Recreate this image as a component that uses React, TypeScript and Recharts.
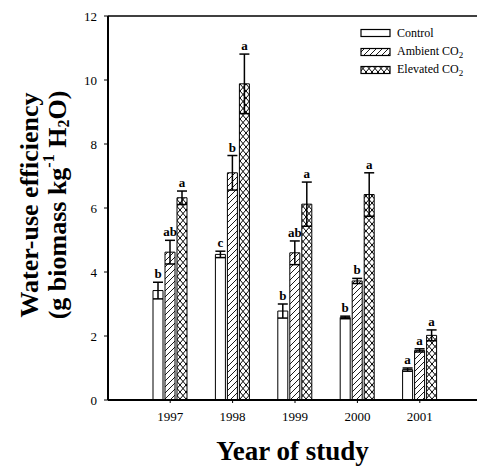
import { BarChart, Bar, XAxis, YAxis, ErrorBar, LabelList, ReferenceLine } from 'recharts'

const years = ['1997', '1998', '1999', '2000', '2001']
const control = [3.42, 4.55, 2.78, 2.58, 0.95]
const controlErr = [0.26, 0.1, 0.22, 0.04, 0.05]
const ambient = [4.62, 7.1, 4.6, 3.72, 1.55]
const ambientErr = [0.37, 0.54, 0.37, 0.08, 0.05]
const elevated = [6.32, 9.88, 6.12, 6.42, 2.02]
const elevatedErr = [0.21, 0.93, 0.69, 0.68, 0.17]
const controlLetters = ['b', 'c', 'b', 'b', 'a']
const ambientLetters = ['ab', 'b', 'ab', 'b', 'a']
const elevatedLetters = ['a', 'a', 'a', 'a', 'a']
const yTicks = [0, 2, 4, 6, 8, 10, 12]

const data = years.map((year, i) => ({
    year,
    control: control[i],
    controlErr: controlErr[i],
    ambient: ambient[i],
    ambientErr: ambientErr[i],
    elevated: elevated[i],
    elevatedErr: elevatedErr[i],
}))

const serif = '"Liberation Serif", "DejaVu Serif", serif'

// letter above the error bar cap
const letterLabel = (letters: string[], errs: number[]) => (props: any) => {
    const { x, y, width, height, value, index } = props
    if (value == null) return null
    const perUnit = height / value
    const top = y - errs[index] * perUnit
    return (
        <text
            x={x + width / 2}
            y={top - 4}
            textAnchor="middle"
            fontFamily={serif}
            fontWeight="bold"
            fontSize={13}
            fill="#000"
        >
            {letters[index]}
        </text>
    )
}

const legendItems = [
    { label: 'Control', fill: '#fff' },
    { label: 'Ambient CO', fill: 'url(#hatch)' },
    { label: 'Elevated CO', fill: 'url(#cross)' },
]

const CustomLegend = () => (
    <div style={{ position: 'absolute', left: 360, top: 24, fontFamily: serif, fontSize: 12, color: '#000' }}>
        {legendItems.map((item, i) => (
            <div key={i} style={{ display: 'flex', alignItems: 'center', height: 18.5 }}>
                <svg width={32} height={10} style={{ marginRight: 5 }}>
                    <rect x={1} y={1.5} width={29} height={7} fill={item.fill} stroke="#000" strokeWidth={1.2} />
                </svg>
                <span>
                    {item.label}
                    {i > 0 && <sub style={{ fontSize: 9 }}>2</sub>}
                </span>
            </div>
        ))}
    </div>
)

const YTitle = (props: any) => {
    const { viewBox } = props
    const cy = viewBox.y + viewBox.height / 2 - 3
    return (
        <g fontFamily={serif} fontWeight="bold" fontSize={26} fill="#000">
            <text x={29} y={cy} textAnchor="middle" dominantBaseline="central" transform={`rotate(-90 29 ${cy})`}>
                Water-use efficiency
            </text>
            <text x={57} y={cy} textAnchor="middle" dominantBaseline="central" transform={`rotate(-90 57 ${cy})`}>
                (g biomass kg
                <tspan fontSize={16} dy={-9}>-1</tspan>
                <tspan dy={9}> H</tspan>
                <tspan fontSize={16} dy={6}>2</tspan>
                <tspan dy={-6}>O)</tspan>
            </text>
        </g>
    )
}

export default function App() {
    return (
        <div style={{ position: 'absolute', left: 0, top: 0, width: 477, height: 466, background: '#fff' }}>
            <BarChart
                width={477}
                height={466}
                data={data}
                margin={{ top: 16, right: 0, left: 0, bottom: 36 }}
                barSize={10}
                barGap={2}
            >
                <defs>
                    <pattern id="hatch" patternUnits="userSpaceOnUse" width={6} height={6}>
                        <rect width={6} height={6} fill="#fff" />
                        <path d="M-1,1 L1,-1 M0,6 L6,0 M5,7 L7,5" stroke="#000" strokeWidth={0.9} />
                    </pattern>
                    <pattern id="cross" patternUnits="userSpaceOnUse" width={6} height={7}>
                        <rect width={6} height={7} fill="#fff" />
                        <path d="M0,0 L6,7 M6,0 L0,7" stroke="#000" strokeWidth={1} />
                    </pattern>
                </defs>
                <ReferenceLine y={12} stroke="#000" strokeWidth={1.5} />
                <XAxis
                    dataKey="year"
                    padding={{ left: 31, right: 26 }}
                    height={30}
                    tickSize={3}
                    tickMargin={9}
                    axisLine={{ stroke: '#000', strokeWidth: 2 }}
                    tickLine={{ stroke: '#000' }}
                    tick={{ fontFamily: serif, fontSize: 13, fill: '#000' }}
                    label={{
                        value: 'Year of study',
                        position: 'insideBottom',
                        offset: -30,
                        style: { fontFamily: serif, fontWeight: 'bold', fontSize: 27, fill: '#000' },
                    }}
                />
                <YAxis
                    domain={[0, 12]}
                    ticks={yTicks}
                    width={108}
                    tickSize={4}
                    tickMargin={7}
                    axisLine={{ stroke: '#000', strokeWidth: 2 }}
                    tickLine={{ stroke: '#000' }}
                    tick={{ fontFamily: serif, fontSize: 13, fill: '#000' }}
                    label={{ content: YTitle }}
                />
                <Bar dataKey="control" fill="#fff" stroke="#000" strokeWidth={1} isAnimationActive={false}>
                    <ErrorBar dataKey="controlErr" width={5} stroke="#000" strokeWidth={1.5} />
                    <LabelList dataKey="control" content={letterLabel(controlLetters, controlErr)} />
                </Bar>
                <Bar dataKey="ambient" fill="url(#hatch)" stroke="#000" strokeWidth={1} isAnimationActive={false}>
                    <ErrorBar dataKey="ambientErr" width={5} stroke="#000" strokeWidth={1.5} />
                    <LabelList dataKey="ambient" content={letterLabel(ambientLetters, ambientErr)} />
                </Bar>
                <Bar dataKey="elevated" fill="url(#cross)" stroke="#000" strokeWidth={1} isAnimationActive={false}>
                    <ErrorBar dataKey="elevatedErr" width={5} stroke="#000" strokeWidth={1.5} />
                    <LabelList dataKey="elevated" content={letterLabel(elevatedLetters, elevatedErr)} />
                </Bar>
            </BarChart>
            <CustomLegend />
        </div>
    )
}
